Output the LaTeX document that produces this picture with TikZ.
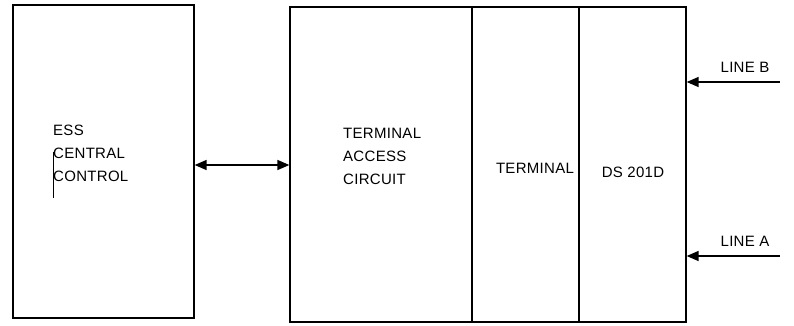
\documentclass[tikz,border=0pt]{standalone}
\usepackage{fontspec}
\setmainfont{Liberation Sans}[LetterSpace=2]
\usetikzlibrary{arrows.meta, positioning}

\begin{document}
\begin{tikzpicture}[x=1pt, y=-1pt,
        blocco/.style={draw, line width=1.3pt, inner sep=0pt},
        testo/.style={font=\fontsize{15}{23}\selectfont, align=left, inner sep=0pt},
        freccia/.style={line width=1.5pt, -{Triangle[length=12pt, width=10pt]}}]

        % ==========================================
        % Cornice della pagina
        % ==========================================
        \useasboundingbox (0,0) rectangle (794,325);

        % ==========================================
        % PARTE SINISTRA: ESS Central Control
        % ==========================================
        \node[blocco, minimum width=181pt, minimum height=313pt] (ess) at (103.5,161.5) {};
        \node[testo, anchor=north west] (esstesto) at (53,125) {ESS\\CENTRAL\\CONTROL};
        % Piccolo tratto verticale accanto al testo
        \draw[line width=0.8pt] (53,152) -- (53,198);

        % ==========================================
        % PARTE DESTRA: blocchi affiancati
        % ==========================================
        \node[blocco, minimum width=182pt, minimum height=315pt] (tac) at (381,164.5) {};
        \node[blocco, minimum width=107pt, minimum height=315pt, right=-1.3pt of tac] (term) {};
        \node[blocco, minimum width=107pt, minimum height=315pt, right=-1.3pt of term] (ds) {};

        % Etichette dei blocchi
        \node[testo, anchor=north west] (tactesto) at (343,128) {TERMINAL\\ACCESS\\CIRCUIT};
        \node[testo] (termtesto) at (535,168) {TERMINAL};
        \node[testo] (dstesto) at (633,172) {DS 201D};

        % ==========================================
        % CENTRO: collegamento bidirezionale
        % ==========================================
        \draw[freccia, {Triangle[length=12pt, width=10pt]}-{Triangle[length=12pt, width=10pt]}]
            (ess.east |- 0,165) -- (tac.west |- 0,165);

        % ==========================================
        % Linee entranti nel DS 201D
        % ==========================================
        \coordinate (lineb) at (780,82);
        \coordinate (linea) at (780,256);
        \draw[freccia] (lineb) -- (ds.east |- lineb);
        \draw[freccia] (linea) -- (ds.east |- linea);
        \node[testo] (lbtesto) at (745,67) {LINE B};
        \node[testo] (latesto) at (745,241) {LINE A};

    \end{tikzpicture}
\end{document}
